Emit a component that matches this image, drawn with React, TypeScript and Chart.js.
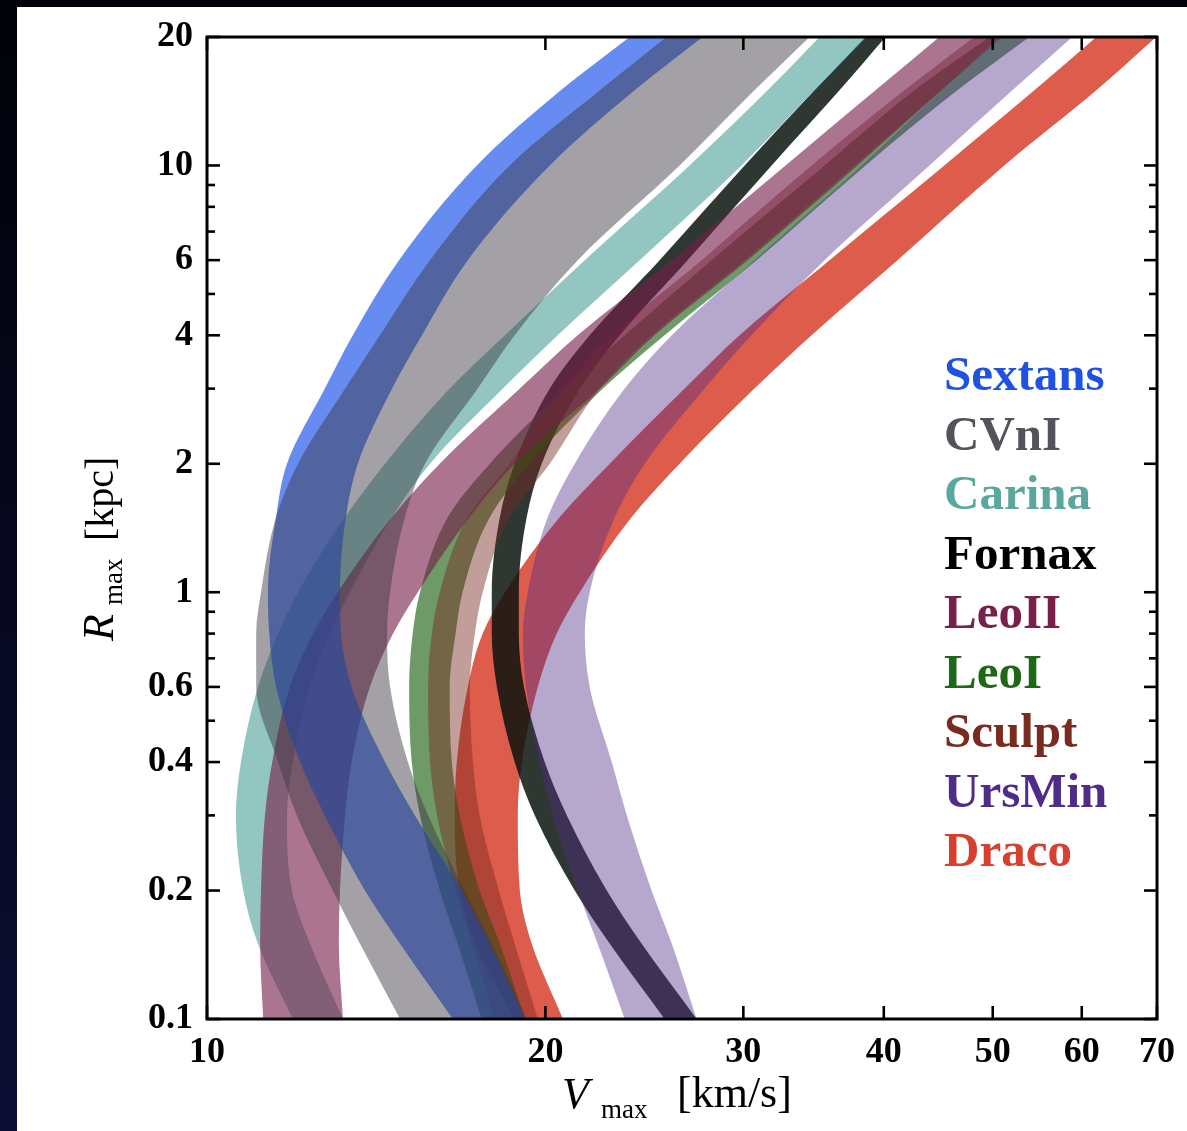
import { useEffect, useRef } from "react";
import { Chart, registerables } from "chart.js";

Chart.register(...registerables);

// R_max grid (kpc) shared by every band boundary
const rmaxGrid = [0.1, 0.15, 0.2, 0.3, 0.4, 0.6, 0.8, 1, 1.5, 2, 3, 4, 6, 10, 15, 20];

// V_max (km/s) of the lower and upper boundary of each band, one value per R_max
const sextansLow = [16.54, 14.85, 13.82, 12.73, 12.1, 11.52, 11.36, 11.33, 11.52, 11.78, 12.73, 13.48, 14.82, 17.38, 20.64, 23.77];
const sextansHigh = [19.18, 17.85, 16.85, 15.31, 14.4, 13.45, 13.16, 13.13, 13.29, 13.62, 14.61, 15.53, 17.06, 20.18, 24.01, 27.6];

const cvnLow = [14.85, 13.68, 12.94, 12.02, 11.57, 11.06, 11.06, 11.17, 11.52, 12.05, 13.27, 14.25, 15.79, 18.59, 22.36, 25.63];
const cvnHigh = [19.25, 17.92, 16.95, 15.73, 15.09, 14.55, 14.46, 14.55, 15.0, 15.63, 17.41, 18.78, 21.37, 26.33, 30.69, 34.36];

const carinaLow = [11.92, 11.1, 10.77, 10.61, 10.72, 11.1, 11.57, 12.05, 13.27, 14.4, 16.44, 18.41, 21.68, 26.87, 31.53, 35.07];
const carinaHigh = [13.21, 12.35, 11.9, 11.78, 11.92, 12.35, 12.86, 13.4, 14.61, 15.79, 18.33, 20.51, 24.26, 29.89, 34.71, 38.61];

const fornaxLow = [25.53, 22.82, 21.24, 19.57, 18.78, 18.11, 17.92, 17.92, 18.22, 18.78, 20.18, 21.9, 25.27, 30.08, 34.71, 38.53];
const fornaxHigh = [27.26, 24.36, 22.68, 20.9, 19.97, 19.14, 18.94, 18.94, 19.25, 19.85, 21.46, 23.29, 26.76, 31.79, 36.53, 40.14];

const leoIILow = [11.22, 11.15, 11.17, 11.26, 11.43, 11.85, 12.43, 13.07, 14.61, 16.11, 18.98, 21.37, 25.91, 32.71, 39.32, 44.82];
const leoIIHigh = [13.21, 13.1, 13.13, 13.27, 13.45, 13.96, 14.64, 15.4, 17.13, 18.78, 22.36, 25.01, 30.26, 37.9, 45.0, 50.68];

const leoILow = [17.55, 16.71, 16.11, 15.47, 15.21, 15.13, 15.24, 15.47, 16.38, 17.85, 20.81, 23.53, 28.11, 35.43, 42.59, 49.65];
const leoIHigh = [19.18, 18.22, 17.48, 16.78, 16.51, 16.44, 16.64, 16.88, 17.85, 19.37, 22.5, 25.53, 30.82, 38.53, 46.5, 53.89];

const sculptLow = [18.03, 17.2, 16.64, 16.02, 15.79, 15.73, 15.85, 16.11, 17.06, 18.59, 20.68, 22.91, 27.54, 34.5, 41.73, 48.15];
const sculptHigh = [19.69, 18.78, 18.18, 17.48, 17.24, 17.13, 17.31, 17.59, 18.59, 20.18, 22.36, 24.86, 30.08, 37.66, 45.0, 50.99];

const ursMinLow = [23.53, 22.26, 21.37, 20.3, 19.77, 19.22, 19.1, 19.29, 20.1, 21.24, 23.53, 25.91, 30.69, 38.22, 45.0, 50.68];
const ursMinHigh = [27.26, 25.91, 24.86, 23.63, 22.91, 21.9, 21.68, 21.9, 23.06, 24.51, 27.71, 30.5, 35.43, 43.92, 52.05, 58.85];

const dracoLow = [18.78, 17.31, 16.78, 16.61, 16.68, 17.06, 17.59, 18.41, 20.6, 22.82, 26.6, 29.77, 35.79, 45.28, 54.45, 61.82];
const dracoHigh = [20.73, 19.45, 18.98, 18.9, 19.06, 19.69, 20.47, 21.46, 23.87, 26.33, 30.69, 34.5, 41.14, 51.2, 61.82, 69.89];

// legend order
const galaxyNames = ["Sextans", "CVnI", "Carina", "Fornax", "LeoII", "LeoI", "Sculpt", "UrsMin", "Draco"];
const legendColors = ["#1f52e2", "#55525a", "#5aa89d", "#000000", "#781f4a", "#1f6916", "#7a2b20", "#4f2b8a", "#d73f2f"];
const bandColors = [
  "rgba(30, 85, 235, 0.68)",
  "rgba(60, 55, 65, 0.47)",
  "rgba(75, 160, 150, 0.6)",
  "rgba(10, 20, 15, 0.85)",
  "rgba(120, 30, 75, 0.62)",
  "rgba(30, 100, 20, 0.65)",
  "rgba(120, 40, 30, 0.45)",
  "rgba(80, 45, 135, 0.42)",
  "rgba(215, 65, 45, 0.86)",
];
const bandLows = [sextansLow, cvnLow, carinaLow, fornaxLow, leoIILow, leoILow, sculptLow, ursMinLow, dracoLow];
const bandHighs = [sextansHigh, cvnHigh, carinaHigh, fornaxHigh, leoIIHigh, leoIHigh, sculptHigh, ursMinHigh, dracoHigh];
// stacking: smaller value is painted later (on top)
const bandLayer = [2, 1, 4, 8, 3, 7, 6, 5, 9];

// axis ticks
const xTickValues = [10, 20, 30, 40, 50, 60, 70];
const yTickValues = [0.1, 0.2, 0.4, 0.6, 1, 2, 4, 6, 10, 20];
const yMinorTicks = [0.3, 0.5, 0.7, 0.8, 0.9, 3, 5, 7, 8, 9];

const SERIF = '"Liberation Serif", "Times New Roman", serif';

function buildDatasets() {
  const sets: any[] = [];
  galaxyNames.forEach((name, k) => {
    const low = bandLows[k];
    const high = bandHighs[k];
    const common = {
      borderWidth: 0,
      borderColor: "rgba(0,0,0,0)",
      pointRadius: 0,
      pointHoverRadius: 0,
      cubicInterpolationMode: "monotone",
      order: bandLayer[k],
    };
    sets.push({
      ...common,
      label: name,
      data: low.map((v, i) => ({ x: v, y: rmaxGrid[i] })),
      backgroundColor: bandColors[k],
      fill: "+1",
    });
    sets.push({
      ...common,
      label: name + " upper",
      data: high.map((v, i) => ({ x: v, y: rmaxGrid[i] })),
      backgroundColor: "rgba(0,0,0,0)",
      fill: false,
    });
  });
  return sets;
}

const frameAndText = {
  id: "frameAndText",
  afterDraw(chart: any) {
    const { ctx, chartArea: a } = chart;
    const xs = chart.scales.x;
    const ys = chart.scales.y;
    const MAJOR = 13;
    const MINOR = 8;
    ctx.save();
    ctx.strokeStyle = "#000";
    ctx.lineWidth = 2.6;
    const seg = (x1: number, y1: number, x2: number, y2: number) => {
      ctx.beginPath();
      ctx.moveTo(x1, y1);
      ctx.lineTo(x2, y2);
      ctx.stroke();
    };
    xTickValues.forEach((v) => {
      const p = xs.getPixelForValue(v);
      seg(p, a.bottom, p, a.bottom - MAJOR);
      seg(p, a.top, p, a.top + MAJOR);
    });
    yTickValues.forEach((v) => {
      const p = ys.getPixelForValue(v);
      seg(a.left, p, a.left + MAJOR, p);
      seg(a.right, p, a.right - MAJOR, p);
    });
    yMinorTicks.forEach((v) => {
      const p = ys.getPixelForValue(v);
      seg(a.left, p, a.left + MINOR, p);
      seg(a.right, p, a.right - MINOR, p);
    });
    ctx.lineWidth = 3;
    ctx.strokeRect(a.left, a.top, a.right - a.left, a.bottom - a.top);

    // x-axis title
    ctx.fillStyle = "#000";
    ctx.textAlign = "left";
    ctx.textBaseline = "alphabetic";
    ctx.font = `italic 44px ${SERIF}`;
    ctx.fillText("V", 562, 1108);
    ctx.font = `27px ${SERIF}`;
    ctx.fillText("max", 601, 1118);
    ctx.font = `44px ${SERIF}`;
    ctx.fillText("[km/s]", 677, 1107);

    // y-axis title (rotated)
    ctx.save();
    ctx.translate(113, 641);
    ctx.rotate(-Math.PI / 2);
    ctx.font = `italic 44px ${SERIF}`;
    ctx.fillText("R", 0, 0);
    ctx.font = `27px ${SERIF}`;
    ctx.fillText("max", 36, 9);
    ctx.font = `40px ${SERIF}`;
    ctx.fillText("[kpc]", 100, 0);
    ctx.restore();

    // legend
    ctx.font = `bold 49px ${SERIF}`;
    galaxyNames.forEach((name, i) => {
      ctx.fillStyle = legendColors[i];
      ctx.fillText(name, 944, 390 + i * 59.5);
    });
    ctx.restore();
  },
};

export default function App() {
  const canvasRef = useRef<HTMLCanvasElement>(null);

  useEffect(() => {
    const canvas = canvasRef.current;
    if (!canvas) return;
    const tickFont = { family: SERIF, size: 36, weight: "bold" as const };
    const chart = new Chart(canvas, {
      type: "line",
      data: { datasets: buildDatasets() },
      options: {
        indexAxis: "y",
        animation: false,
        responsive: false,
        maintainAspectRatio: false,
        events: [],
        layout: { padding: { left: 0, top: 37, right: 29, bottom: 0 } },
        plugins: {
          legend: { display: false },
          tooltip: { enabled: false },
          filler: { propagate: false },
        },
        scales: {
          x: {
            type: "logarithmic",
            position: "bottom",
            min: 10,
            max: 70,
            afterFit: (s: any) => {
              s.height = 112;
            },
            afterBuildTicks: (s: any) => {
              s.ticks = xTickValues.map((v) => ({ value: v }));
            },
            ticks: {
              autoSkip: false,
              maxRotation: 0,
              minRotation: 0,
              padding: 12,
              color: "#000",
              font: tickFont,
              callback: (v: any) => String(v),
            },
            grid: { display: false, drawTicks: false },
            border: { display: false },
          },
          y: {
            type: "logarithmic",
            position: "left",
            min: 0.1,
            max: 20,
            afterFit: (s: any) => {
              s.width = 207;
            },
            afterBuildTicks: (s: any) => {
              s.ticks = yTickValues.map((v) => ({ value: v }));
            },
            ticks: {
              autoSkip: false,
              padding: 14,
              color: "#000",
              font: tickFont,
              callback: (v: any) => String(v),
            },
            grid: { display: false, drawTicks: false },
            border: { display: false },
          },
        },
      } as any,
      plugins: [frameAndText],
    });
    return () => chart.destroy();
  }, []);

  return (
    <div
      style={{
        position: "fixed",
        left: 0,
        top: 0,
        width: 1187,
        height: 1131,
        overflow: "hidden",
        background: "linear-gradient(180deg, #010208 0%, #06071c 45%, #0c0e34 100%)",
      }}
    >
      <div style={{ position: "absolute", left: 17, top: 7, right: 0, bottom: 0, background: "#ffffff" }} />
      <canvas ref={canvasRef} width={1187} height={1131} style={{ position: "absolute", left: 0, top: 0 }} />
    </div>
  );
}
